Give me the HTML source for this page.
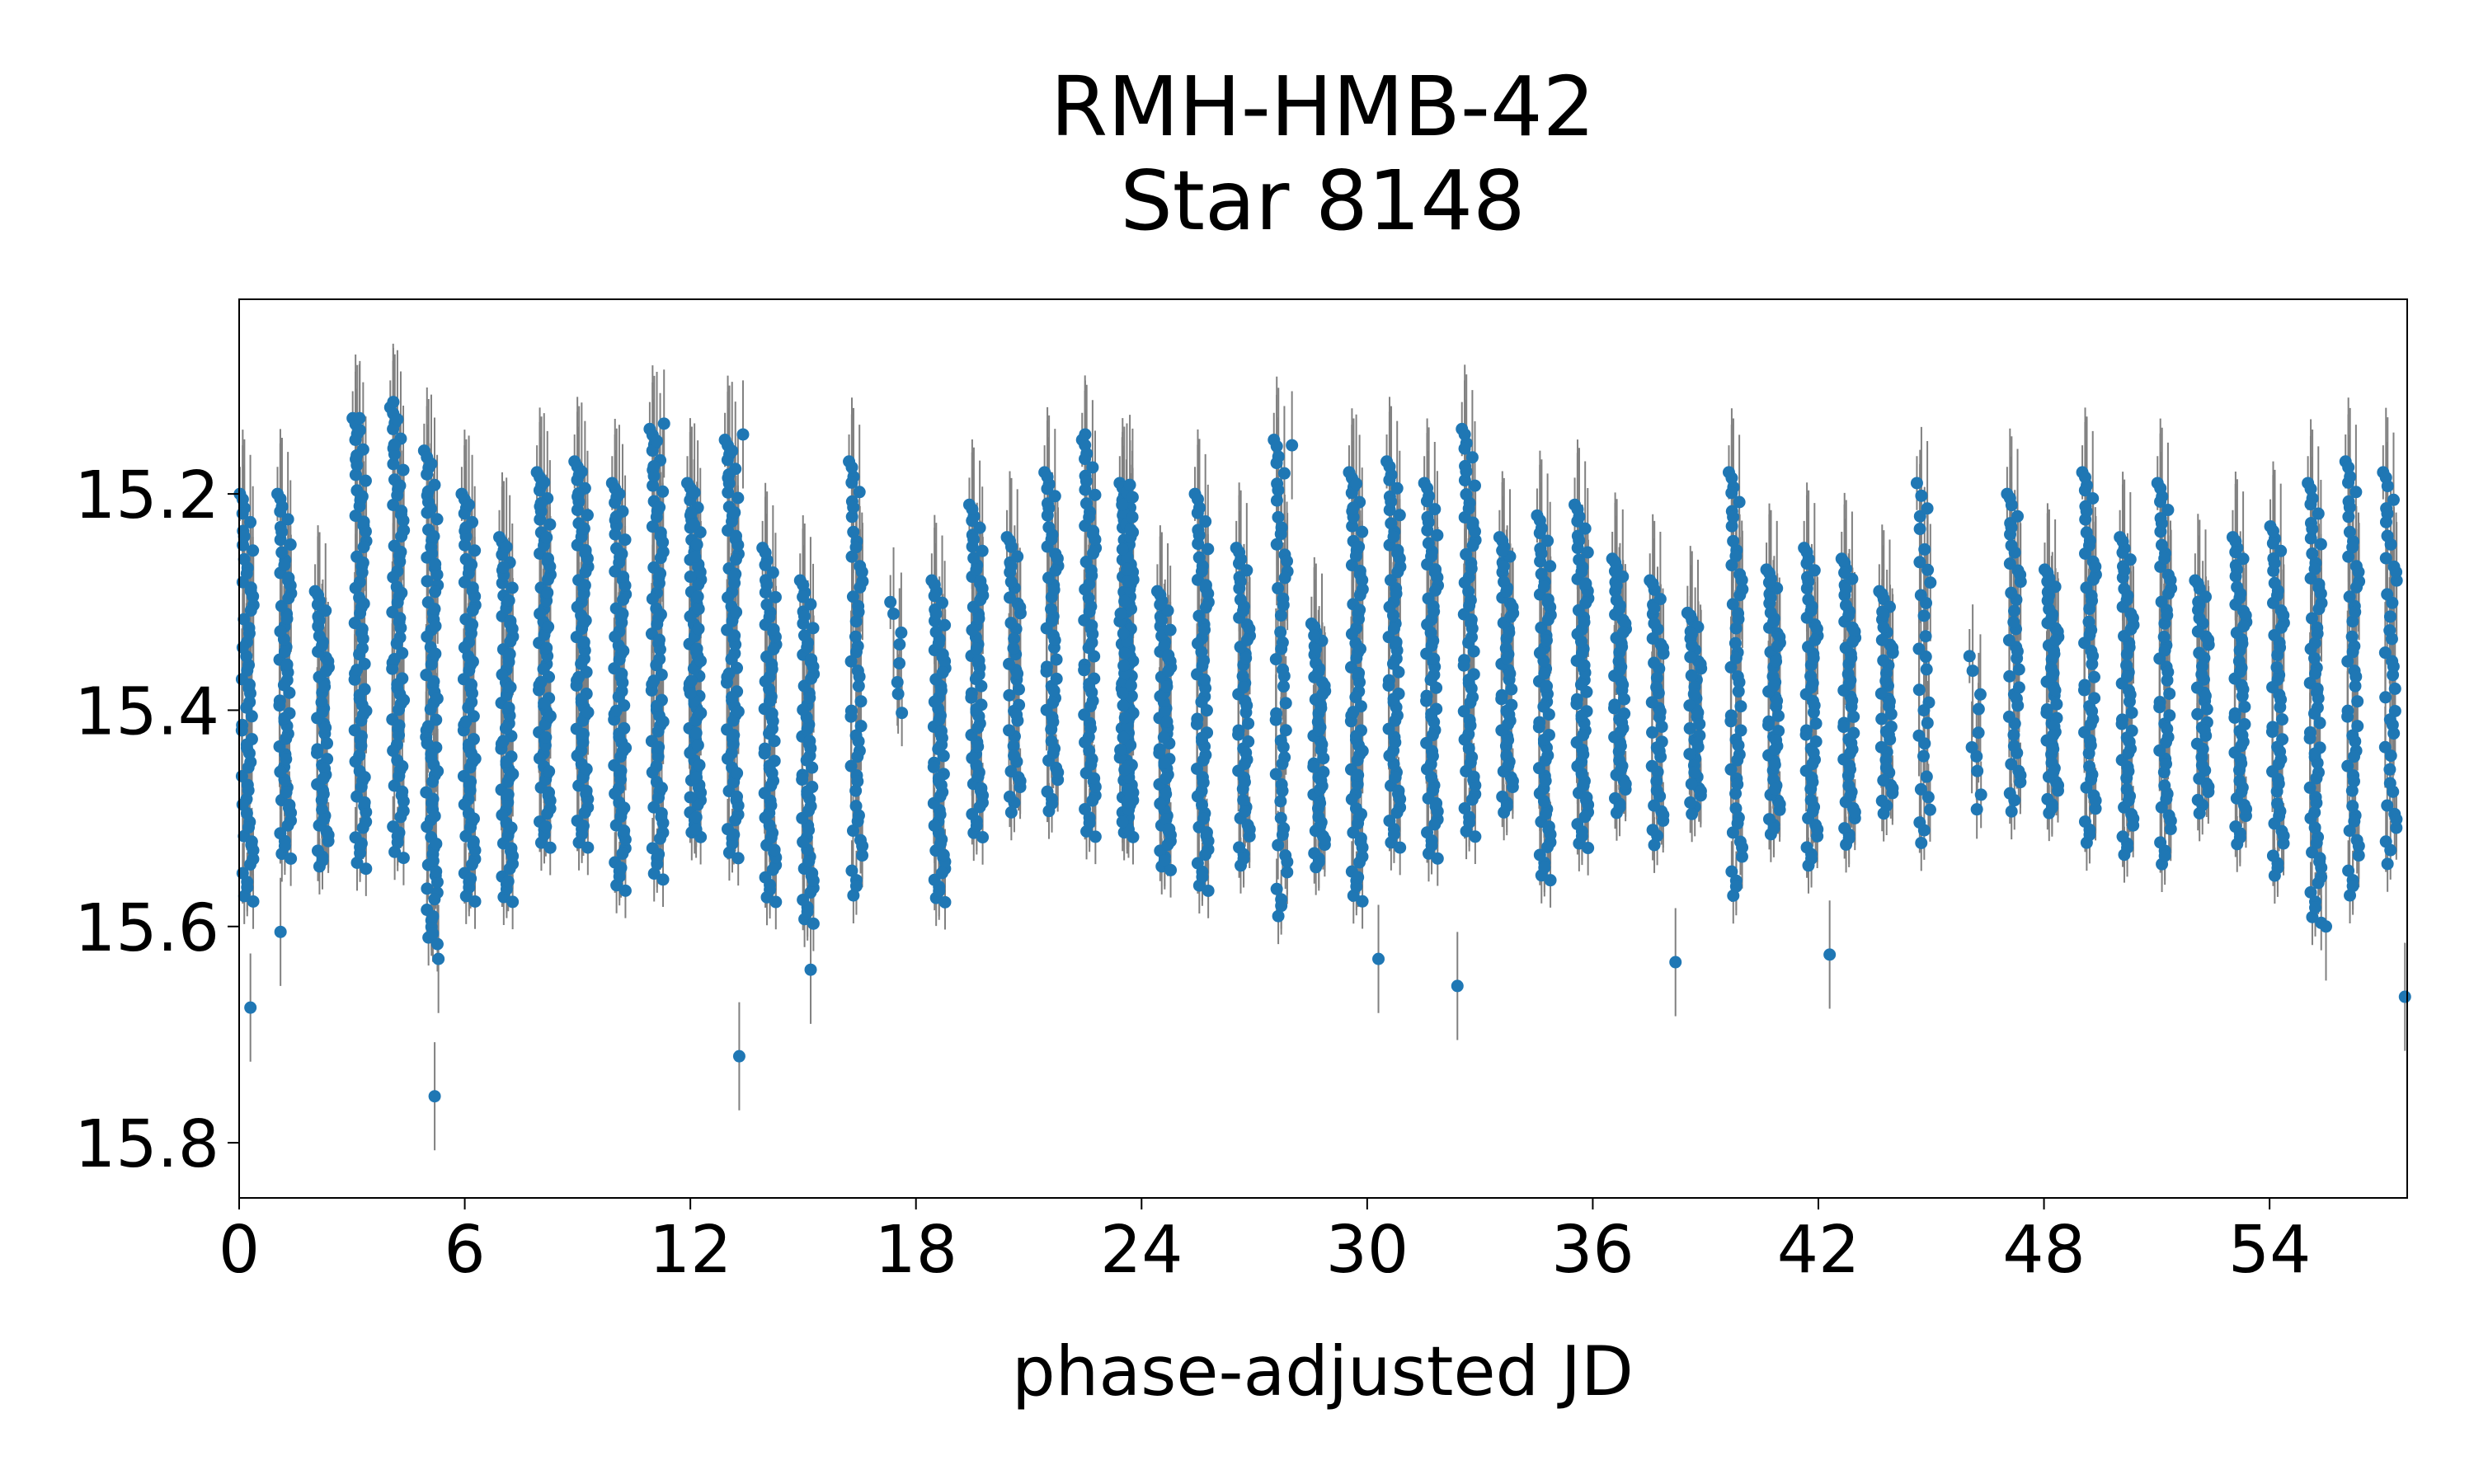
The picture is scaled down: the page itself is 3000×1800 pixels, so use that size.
<!DOCTYPE html>
<html><head><meta charset="utf-8">
<style>
html,body{margin:0;padding:0;background:#fff;}
svg{display:block;font-family:"DejaVu Sans","Liberation Sans",sans-serif;}
</style></head>
<body>
<svg id="chart" width="3000" height="1800" viewBox="0 0 3000 1800" xmlns="http://www.w3.org/2000/svg">
<rect width="3000" height="1800" fill="#fff"/>
<text x="1604" y="164" font-size="100" text-anchor="middle" fill="#000">RMH-HMB-42</text>
<text x="1604" y="278" font-size="100" text-anchor="middle" fill="#000">Star 8148</text>
<g id="errs"></g>
<g id="pts"></g>
<rect x="290" y="363" width="2629" height="1090" fill="none" stroke="#000" stroke-width="2"/>
<g id="xt"></g>
<g id="yt"></g>
<text x="1604" y="1692" font-size="83" text-anchor="middle" fill="#000">phase-adjusted JD</text>
</svg>
<script>
// cluster-level data (one observing night per entry)
const nightCenters = [0.2,1.2,2.2,3.2,4.2,5.1,6.1,7.1,8.1,9.1,10.1,11.1,12.1,13.1,14.1,15.1,16.4,17.5,18.6,19.6,20.6,21.6,22.6,23.6,24.6,25.6,26.7,27.7,28.7,29.7,30.7,31.7,32.7,33.7,34.7,35.7,36.7,37.7,38.7,39.8,40.8,41.8,42.8,43.8,44.8,46.2,47.2,48.2,49.2,50.2,51.2,52.2,53.2,54.2,55.2,56.2,57.2];
const nightTop = [15.2,15.2,15.29,15.13,15.12,15.16,15.2,15.24,15.18,15.17,15.19,15.14,15.19,15.15,15.25,15.28,15.17,15.3,15.28,15.21,15.24,15.18,15.15,15.19,15.29,15.2,15.25,15.15,15.32,15.18,15.17,15.19,15.14,15.24,15.22,15.21,15.26,15.28,15.31,15.18,15.27,15.25,15.26,15.29,15.19,15.35,15.2,15.27,15.18,15.24,15.19,15.28,15.24,15.23,15.19,15.17,15.18];
const nightBottom = [15.58,15.54,15.55,15.55,15.54,15.62,15.58,15.58,15.53,15.53,15.57,15.56,15.52,15.54,15.58,15.6,15.58,15.42,15.58,15.52,15.5,15.5,15.52,15.52,15.55,15.57,15.55,15.6,15.55,15.58,15.53,15.54,15.52,15.5,15.56,15.53,15.5,15.53,15.5,15.58,15.52,15.55,15.53,15.5,15.53,15.5,15.5,15.5,15.53,15.54,15.55,15.5,15.53,15.56,15.6,15.58,15.55];
const nightCounts = [60,60,50,70,70,80,70,70,70,70,70,70,80,70,60,60,50,8,60,60,40,50,60,110,60,60,50,50,50,70,60,60,60,50,60,60,50,40,40,50,50,50,50,40,30,10,40,50,50,50,50,40,50,50,60,50,40];
const outlierX = [0.3,1.1,5.2,5.3,13.3,15.2,32.4,57.6,4.1,3.2,11.3,13.4,22.5,28.0,30.3,38.2,42.3,55.5];
const outlierY = [15.675,15.605,15.757,15.63,15.72,15.64,15.655,15.665,15.115,15.13,15.135,15.145,15.145,15.155,15.63,15.633,15.626,15.6];
const xTicks = [0,6,12,18,24,30,36,42,48,54];
const yTicks = ["15.2","15.4","15.6","15.8"];

const L=290,R=2919,T=363,B=1453,X0=0,X1=57.66,Y0=15.02,Y1=15.851;
const sx=v=>L+(v-X0)/(X1-X0)*(R-L);
const sy=v=>T+(v-Y0)/(Y1-Y0)*(B-T);
const NS="http://www.w3.org/2000/svg";
const errs=document.getElementById('errs'),pts=document.getElementById('pts');
function mk(tag,attrs,parent){const e=document.createElementNS(NS,tag);for(const k in attrs)e.setAttribute(k,attrs[k]);parent.appendChild(e);return e;}
function addPoint(x,y,err){
  const l=mk('line',{x1:sx(x),x2:sx(x),y1:sy(y-err),y2:sy(y+err),stroke:'#808080','stroke-width':2},errs);
  
  
  const c=mk('circle',{cx:sx(x),cy:sy(y),r:7.5,fill:'#1f77b4'},pts);
  
  
}
for(let i=0;i<nightCenters.length;i++){
  const n=nightCounts[i],top=nightTop[i],bot=nightBottom[i];
  for(let k=0;k<n;k++){
    const f=(k*0.618034)%1, g=((k*k)*0.3819660+k*0.137)%1;
    const y=top+(bot-top)*f;
    const x=nightCenters[i]-0.18+0.36*g;
    addPoint(x,y,0.025+0.04*((k*0.381966)%1));
  }
}
for(let i=0;i<outlierX.length;i++) addPoint(outlierX[i],outlierY[i],0.05);

const xt=document.getElementById('xt'),yt=document.getElementById('yt');
xTicks.forEach(v=>{
  const l=mk('line',{x1:sx(v),x2:sx(v),y1:B,y2:B+14,stroke:'#000','stroke-width':2},xt);
  
  
  const t=mk('text',{x:sx(v),y:B+90,'font-size':79,'text-anchor':'middle',fill:'#000'},xt);
  t.textContent=v;
  
  
});
yTicks.forEach(s=>{
  const v=parseFloat(s);
  const l=mk('line',{x1:L-14,x2:L,y1:sy(v),y2:sy(v),stroke:'#000','stroke-width':2},yt);
  
  
  const t=mk('text',{x:L-24,y:sy(v)+29,'font-size':79,'text-anchor':'end',fill:'#000'},yt);
  t.textContent=s;
  
  
});
</script>
</body></html>
